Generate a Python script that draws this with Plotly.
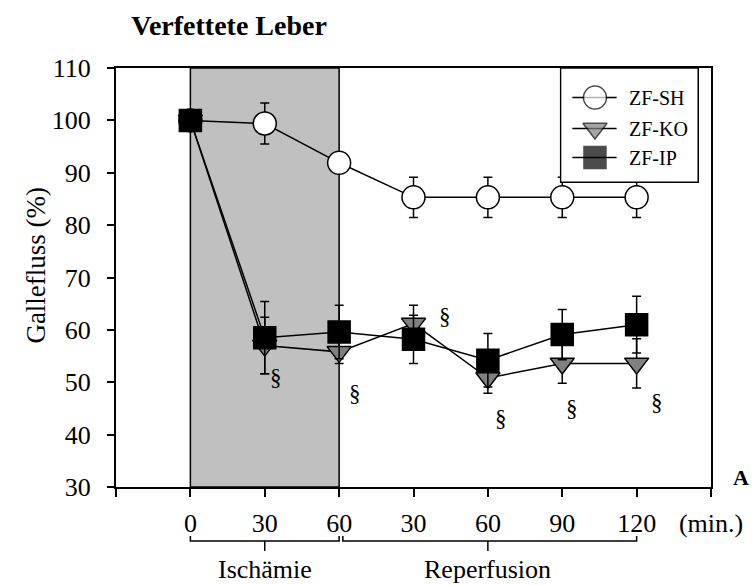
import plotly.graph_objects as go

# ---------------- data ----------------
x_pos = [0, 30, 60, 90, 120, 150, 180]          # continuous time axis (ischemia 0-60, reperfusion 60-180)
tick_vals = [-30, 0, 30, 60, 90, 120, 150, 180, 210]
tick_text = ["", "0", "30", "60", "30", "60", "90", "120", "(min.)"]

sh = [100, 99.4, 91.9, 85.3, 85.3, 85.3, 85.3]
sh_err = [0.8, 3.9, 1.2, 3.85, 3.85, 3.85, 3.85]
ko = [100, 57.0, 55.8, 61.2, 50.8, 53.6, 53.6]
ko_err = [0.5, 5.4, 2.2, 3.5, 2.9, 3.8, 4.7]
ip = [100, 58.5, 59.6, 58.2, 54.2, 59.1, 61.0]
ip_err = [0.5, 6.9, 5.1, 4.6, 5.1, 4.8, 5.4]

series_names = ["ZF-SH", "ZF-KO", "ZF-IP"]

isch_start, isch_end = 0, 60

# significance markers (§)
sect_x = [34.5, 66.3, 102.8, 125.2, 153.8, 188.1]
sect_y = [50.9, 47.9, 62.6, 43.0, 44.9, 46.1]

# phase brackets below axis: (start, end, centre, label)
phases = [(0, 60, 30, "Ischämie"), (61.5, 180, 120, "Reperfusion")]

# ---------------- styles ----------------
FONT = "Liberation Serif, Times New Roman, serif"
styles = [
    dict(symbol="circle", color="white"),
    dict(symbol="triangle-down", color="#808080"),
    dict(symbol="square", color="black"),
]
sizes = [23, 21, 22]

fig = go.Figure()

for name, y, e, st, sz in zip(series_names, [sh, ko, ip], [sh_err, ko_err, ip_err], styles, sizes):
    fig.add_trace(go.Scatter(
        x=x_pos, y=y, name=name, mode="lines+markers",
        line=dict(color="black", width=1.5),
        marker=dict(symbol=st["symbol"], size=sz, color=st["color"],
                    line=dict(color="black", width=1.5)),
        error_y=dict(type="data", array=e, visible=True, color="black",
                     thickness=1.5, width=4.5),
        showlegend=False, cliponaxis=False,
    ))

# ---------------- custom legend (own small axes) ----------------
LEG_W, LEG_H = 140, 114.3
leg_rows = [29.6, 60.6, 89.6]
fig.add_trace(go.Scatter(
    x=[0, LEG_W, LEG_W, 0, 0], y=[0, 0, LEG_H, LEG_H, 0],
    xaxis="x2", yaxis="y2", mode="lines", fill="toself", fillcolor="white",
    line=dict(color="black", width=1.5), showlegend=False, hoverinfo="skip",
))
for name, st, sz, ry in zip(series_names, styles, sizes, leg_rows):
    fig.add_trace(go.Scatter(
        x=[12, 35, 57], y=[ry, ry, ry], xaxis="x2", yaxis="y2",
        mode="lines+markers", line=dict(color="black", width=1.5),
        marker=dict(symbol=st["symbol"], size=[0, sz, 0], color=st["color"],
                    line=dict(color="black", width=[0, 1.5, 0])),
        showlegend=False, hoverinfo="skip", cliponaxis=False,
    ))
    fig.add_annotation(x=68, y=ry, xref="x2", yref="y2", text=name, showarrow=False,
                       xanchor="left", yanchor="middle",
                       font=dict(family=FONT, size=20, color="black"))

# ---------------- shapes ----------------
fig.add_shape(type="rect", x0=isch_start, x1=isch_end, y0=30, y1=110, xref="x", yref="y",
              fillcolor="#c0c0c0", line=dict(color="black", width=1.5), layer="below")

b_y, b_up, b_down = -0.1288, -0.1169, -0.1526
for x0, x1, xc, lab in phases:
    fig.add_shape(type="path", xref="x", yref="paper",
                  path=f"M {x0},{b_up} L {x0},{b_y} L {x1},{b_y} L {x1},{b_up}",
                  line=dict(color="black", width=1.5))
    fig.add_shape(type="line", xref="x", yref="paper", x0=xc, x1=xc, y0=b_y, y1=b_down,
                  line=dict(color="black", width=1.5))
    fig.add_annotation(x=xc, y=-0.198, xref="x", yref="paper", text=lab, showarrow=False,
                       xanchor="center", yanchor="middle",
                       font=dict(family=FONT, size=26, color="black"))

for sx, sy in zip(sect_x, sect_y):
    fig.add_annotation(x=sx, y=sy, xref="x", yref="y", text="§", showarrow=False,
                       font=dict(family=FONT, size=23, color="black"))

fig.add_annotation(x=-0.134, y=0.529, xref="paper", yref="paper", text="Gallefluss (%)",
                   textangle=-90, showarrow=False, xanchor="center", yanchor="middle",
                   font=dict(family=FONT, size=27, color="black"))
fig.add_annotation(x=1.033, y=0.0215, xref="paper", yref="paper", text="<b>A</b>",
                   showarrow=False, xanchor="left", yanchor="middle",
                   font=dict(family=FONT, size=22, color="black"))

fig.update_layout(
    width=755, height=586,
    margin=dict(l=116, r=34, t=68, b=99),
    paper_bgcolor="white", plot_bgcolor="rgba(0,0,0,0)",
    title=dict(text="<b>Verfettete Leber</b>", x=0.19, xref="paper", xanchor="center",
               y=1 - 25 / 586, yref="container", yanchor="middle",
               font=dict(family=FONT, size=28, color="black")),
    xaxis=dict(range=[-30, 210], tickvals=tick_vals, ticktext=tick_text,
               ticks="outside", ticklen=8, tickwidth=1.5, tickcolor="black",
               showline=True, linewidth=2, linecolor="black", mirror=True,
               showgrid=False, zeroline=False, ticklabelstandoff=4,
               tickfont=dict(family=FONT, size=26, color="black")),
    yaxis=dict(range=[30, 110], dtick=10, tick0=30,
               ticks="outside", ticklen=7, tickwidth=1.5, tickcolor="black",
               showline=True, linewidth=2, linecolor="black", mirror=True,
               showgrid=False, zeroline=False, ticklabelstandoff=11,
               tickfont=dict(family=FONT, size=26, color="black")),
    xaxis2=dict(domain=[0.7455, 0.9802], range=[-1, LEG_W + 1], anchor="y2", visible=False),
    yaxis2=dict(domain=[0.725, 1.0], range=[LEG_H + 1, 0], anchor="x2", visible=False),
)

fig.write_html("out.html")
